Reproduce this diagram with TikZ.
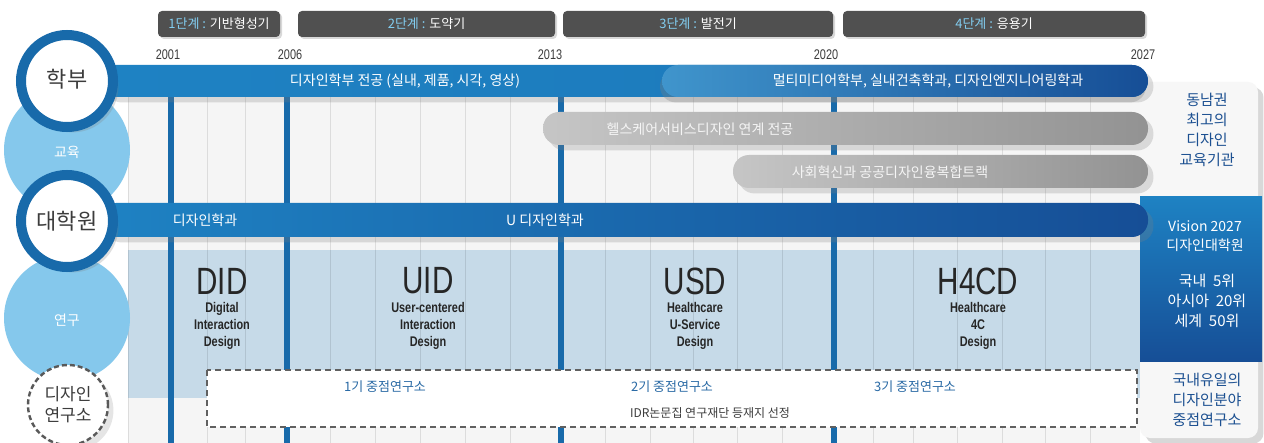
\documentclass[tikz,border=0pt]{standalone}
\usepackage{fontspec}
\setmainfont{Noto Sans CJK KR}
\newfontfamily\condfont[FakeStretch=0.78]{Liberation Sans}
\usetikzlibrary{shadows}
\definecolor{dsblue}{RGB}{24,106,170}
\definecolor{dsbarL}{RGB}{30,130,195}
\definecolor{dsbarR}{RGB}{22,78,150}
\definecolor{dslight}{RGB}{133,200,236}
\definecolor{dspale}{RGB}{198,218,232}
\definecolor{dsgrid}{RGB}{245,245,245}
\definecolor{dsdark}{RGB}{80,80,80}
\definecolor{dstext}{RGB}{60,60,60}
\definecolor{dscyan}{RGB}{130,205,240}
\definecolor{dsnavy}{RGB}{28,80,145}
\definecolor{dsmid}{RGB}{42,106,165}

\begin{document}
\begin{tikzpicture}[x=0.5pt,y=-0.5pt,
  phasebox/.style={fill=dsdark,rounded corners=2pt,minimum height=13pt,inner sep=0pt,
    text=white,font=\fontsize{6.5}{7}\selectfont,
    drop shadow={opacity=0.3,shadow xshift=1pt,shadow yshift=-1pt}},
  yearlbl/.style={text=dstext,font=\condfont\fontsize{7}{8}\selectfont,inner sep=0pt},
  barlbl/.style={text=white,font=\fontsize{7}{8}\selectfont,inner sep=0pt},
  ringcircle/.style={fill=white,draw=dsblue,line width=5pt,drop shadow={opacity=0.25}},
  bigname/.style={text=dstext,font=\fontsize{11}{12}\selectfont,inner sep=0pt},
  smallname/.style={text=white,font=\fontsize{7}{8}\selectfont,inner sep=0pt},
  projname/.style={text=black!85,font=\condfont\fontsize{19}{20}\selectfont,inner sep=0pt},
  projsub/.style={text=black!85,font=\condfont\bfseries\fontsize{7}{8.6}\selectfont,align=center,inner sep=0pt},
  centerlbl/.style={text=dsmid,font=\fontsize{6.5}{7}\selectfont,inner sep=0pt},
  sidelbl/.style={text=dsnavy,font=\fontsize{7.5}{10}\selectfont,align=center,inner sep=0pt},
  sidewhite/.style={sidelbl,text=white}]
  \useasboundingbox[fill=white] (0,0) rectangle (1264,443);

  %% grid background and research band
  \fill[dsgrid] (128,65) rectangle (1140,443);
  \fill[dspale] (128,250) rectangle (1140,398);
  \foreach \gx in {128,207,245,330,375,420,465,510,605,650,693,737,782,873,913,957,1002,1045,1090}
    \draw[black,opacity=0.1,line width=0.5pt] (\gx,65) -- (\gx,443);
  %% stage dividers
  \foreach \gx in {171,287,561,834}
    \draw[dsblue,line width=3pt] (\gx,70) -- (\gx,443);

  %% right panel
  \fill[gray!6,rounded corners=5pt,drop shadow={opacity=0.3}] (1140,82) rectangle (1258,438);
  \shade[top color=dsbarL,bottom color=dsbarR] (1140,197) rectangle (1262,362);

  %% undergraduate bars
  \shade[left color=dsbarL,right color=dsbarL!80!dsbarR,rounded corners=8pt,
    drop shadow={opacity=0.25}] (100,65) rectangle (1148,97);
  \shade[left color=dsbarL!85!white,right color=dsbarR,rounded corners=8pt,
    drop shadow={opacity=0.3,shadow xshift=-1pt}] (662,65) rectangle (1148,97);
  %% education tracks
  \shade[left color=gray!45,right color=gray!85,rounded corners=8pt,
    drop shadow={opacity=0.25}] (543,112) rectangle (1148,145);
  \shade[left color=gray!45,right color=gray!85,rounded corners=8pt,
    drop shadow={opacity=0.25}] (733,155) rectangle (1148,188);
  %% graduate bar
  \shade[left color=dsbarL,right color=dsbarR,rounded corners=8pt,
    drop shadow={opacity=0.25}] (100,203) rectangle (1148,237);

  %% research institute box
  \draw[fill=white,draw=gray!75!black,line width=0.8pt,dash pattern=on 3pt off 2pt]
    (207,370) rectangle (1137,427);

  %% left circles
  \fill[dslight] (67,150) circle[radius=31.5pt];
  \fill[dslight] (67,318) circle[radius=31.5pt];
  \draw[ringcircle] (67,81) circle[radius=23pt];
  \draw[ringcircle] (67,221) circle[radius=23pt];
  \draw[fill=white,draw=gray!70!black,line width=1.2pt,dash pattern=on 2.5pt off 1.5pt,
    drop shadow={opacity=0.2}] (68,405) circle[radius=20pt];
  \node[bigname] (ug) at (67,79) {학부};
  \node[smallname] (edu) at (67,152) {교육};
  \node[bigname] (grad) at (67,221) {대학원};
  \node[smallname] (res) at (67,320) {연구};
  \node[bigname,font=\fontsize{8.5}{10.5}\selectfont,align=center] (lab) at (68,405) {디자인\\연구소};

  %% stage headers
  \node[phasebox,minimum width=61pt] (p1) at (219,24) {{\color{dscyan}1단계 :} 기반형성기};
  \node[phasebox,minimum width=128.5pt] (p2) at (426.5,24) {{\color{dscyan}2단계 :} 도약기};
  \node[phasebox,minimum width=135pt] (p3) at (698,24) {{\color{dscyan}3단계 :} 발전기};
  \node[phasebox,minimum width=151pt] (p4) at (994,24) {{\color{dscyan}4단계 :} 응용기};

  %% years
  \node[yearlbl] (y1) at (168,55) {2001};
  \node[yearlbl] (y2) at (290,55) {2006};
  \node[yearlbl] (y3) at (550,55) {2013};
  \node[yearlbl] (y4) at (826,55) {2020};
  \node[yearlbl] (y5) at (1143,55) {2027};

  %% bar texts
  \node[barlbl] (ugA) at (405,81) {디자인학부 전공 (실내, 제품, 시각, 영상)};
  \node[barlbl] (ugB) at (928,81) {멀티미디어학부, 실내건축학과, 디자인엔지니어링학과};
  \node[barlbl,text=white!92!gray] (trA) at (700,129) {헬스케어서비스디자인 연계 전공};
  \node[barlbl,text=white!92!gray] (trB) at (890,172) {사회혁신과 공공디자인융복합트랙};
  \node[barlbl] (grA) at (205,220) {디자인학과};
  \node[barlbl] (grB) at (545,220) {U 디자인학과};

  %% research projects
  \node[projname] (did) at (222,281) {DID};
  \node[projsub,anchor=north] (didS) at (222,302) {Digital\\Interaction\\Design};
  \node[projname] (uid) at (428,281) {UID};
  \node[projsub,anchor=north] (uidS) at (428,302) {User-centered\\Interaction\\Design};
  \node[projname] (usd) at (695,281) {USD};
  \node[projsub,anchor=north] (usdS) at (695,302) {Healthcare\\U-Service\\Design};
  \node[projname] (hcd) at (978,281) {H4CD};
  \node[projsub,anchor=north] (hcdS) at (978,302) {Healthcare\\4C\\Design};

  %% research institute labels
  \node[centerlbl] (c1) at (385,387) {1기 중점연구소};
  \node[centerlbl] (c2) at (672,387) {2기 중점연구소};
  \node[centerlbl] (c3) at (915,387) {3기 중점연구소};
  \node[centerlbl,text=dstext,font=\fontsize{6}{7}\selectfont] (idr) at (710,413) {IDR논문집 연구재단 등재지 선정};

  %% right panel texts
  \node[sidelbl] (sEdu) at (1207,130) {동남권\\최고의\\디자인\\교육기관};
  \node[sidewhite,font=\fontsize{7}{9.5}\selectfont] (sVis) at (1205,236) {Vision 2027\\디자인대학원};
  \node[sidewhite] (sRank) at (1207,301) {국내~~5위\\아시아~~20위\\세계~~50위};
  \node[sidelbl] (sLab) at (1207,400) {국내유일의\\디자인분야\\중점연구소};
\end{tikzpicture}
\end{document}
